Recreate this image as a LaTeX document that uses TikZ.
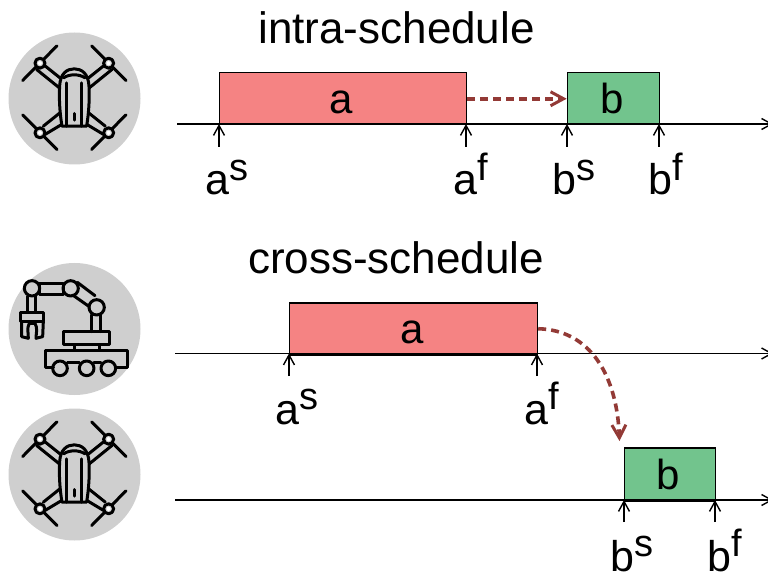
\documentclass[tikz,border=0pt]{standalone}
\usepackage{fontspec}
\setmainfont{Liberation Sans}
\usetikzlibrary{arrows.meta}
\definecolor{redbox}{HTML}{F58383}
\definecolor{greenbox}{HTML}{72C48D}
\definecolor{greydisc}{HTML}{CFCFCF}
\definecolor{dep}{HTML}{933A36}
\newcommand{\lbl}[2]{#1\raisebox{14.5pt}{\fontsize{38}{40}\selectfont #2}}
\tikzset{
  x=1pt,y=-1pt,
  axisline/.style={draw=black,line width=1.4pt,-{Straight Barb[length=10pt,width=11pt]}},
  tick/.style={draw=black,line width=1.4pt,-{Straight Barb[length=10pt,width=11pt]}},
  taskbox/.style={draw=black,line width=1.5pt,inner sep=0pt,minimum height=#1,font=\fontsize{42}{44}\selectfont,text height=30pt,text depth=0pt},
  depend/.style={draw=dep,line width=3.6pt,dash pattern=on 8pt off 5pt,-{Straight Barb[length=13pt,width=14pt,line width=3pt]}},
  title/.style={font=\fontsize{44}{50}\selectfont,anchor=base,inner sep=0pt},
  timelabel/.style={font=\fontsize{43}{50}\selectfont,anchor=base west,inner sep=0pt},
  icon/.style={line width=3pt,draw=black,line cap=round,line join=round},
  disc/.style={fill=greydisc,draw=none,circle,minimum size=132pt,inner sep=0pt},
}
\begin{document}
\begin{tikzpicture}
\useasboundingbox (0,0) rectangle (768,577);
% discs
\node[disc] (d1) at (74.5,98.5) {};
\node[disc] (d2) at (74.5,329) {};
\node[disc] (d3) at (74.5,474.5) {};
% drones
\foreach \cy in {98.5,474.5}{
\begin{scope}[shift={(74.3,\cy)},x=0.3333pt,y=-0.3333pt]
  \foreach \sx in {1,-1}{
  \begin{scope}[xscale=\sx]
    % arms
    \draw[icon] (93,-102) -- (43,-62);
    \draw[icon] (113,-87) -- (45,-32);
    \draw[icon] (93,83) -- (43,43);
    \draw[icon] (88,108) -- (38,78);
    % propellers
    \draw[icon] (52,-158) -- (155,-54);
    \draw[icon] (52,153) -- (155,49);
    % hubs
    \draw[icon,fill=greydisc] (103,-106) circle (15);
    \draw[fill=white,draw=none] (103,-106) circle (6);
    \draw[icon,fill=greydisc] (103,103) circle (15);
    \draw[fill=white,draw=none] (103,103) circle (6);
  \end{scope}}
  \draw[icon,fill=greydisc] (-37,83) .. controls (-44,40) and (-46,0) .. (-44,-38)
     .. controls (-42,-75) and (-22,-89) .. (0,-89)
     .. controls (22,-89) and (42,-75) .. (44,-38)
     .. controls (46,0) and (44,40) .. (37,83) -- cycle;
  \draw[icon] (-22,-47) -- (-22,83);
  \draw[icon] (22,-47) -- (22,83);
  \draw[icon] (-32,-62) .. controls (-15,-74) and (15,-74) .. (32,-62);
  \draw[icon] (0,45) -- (0,65);
\end{scope}}
% robot arm
\begin{scope}[shift={(0,255)},x=0.3333pt,y=-0.3333pt]
  \draw[icon] (118,85) rectangle (192,118);
  \draw[icon] (232,82) -- (285,122);
  \draw[icon] (218,120) -- (268,155);
  \draw[icon] (96,100) circle (23);
  \draw[icon] (212,100) circle (23);
  \draw[icon] (290,157) circle (23);
  \draw[icon] (84,124) -- (84,172);
  \draw[icon] (106,124) -- (106,172);
  \draw[icon] (62,172) rectangle (132,200);
  \draw[icon] (65,200) -- (65,245) -- (85,250) .. controls (85,230) and (80,220) .. (88,205) -- (105,205)
     .. controls (114,220) and (108,235) .. (108,250) -- (128,245) -- (130,200);
  \draw[icon] (274,180) -- (274,230);
  \draw[icon] (302,180) -- (302,230);
  \draw[icon] (190,230) rectangle (328,268);
  \draw[icon] (225,268) rectangle (300,286);
  \draw[icon] (160,338) -- (138,338) -- (138,286) -- (382,286) -- (382,338) -- (348,338);
  \draw[icon] (202,322) -- (238,322);
  \draw[icon] (282,322) -- (303,322);
  \draw[icon] (180,340) circle (22);
  \draw[icon] (260,340) circle (22);
  \draw[icon] (325,340) circle (22);
\end{scope}
% row 1
\coordinate (ax1s) at (177,124);
\coordinate (ax1e) at (773,124);
\node[taskbox=52pt,fill=redbox,minimum width=247pt,anchor=north west] (a1) at (218.7,72) {\hspace{-3pt}a};
\node[taskbox=52pt,fill=greenbox,minimum width=92pt,anchor=north west] (b1) at (566.7,72) {\hspace{-3pt}b};
\draw[axisline] (ax1s) -- (ax1e);
\draw[depend] (a1.east) -- (b1.west);
\foreach \n/\x in {t1/219,t2/466,t3/567,t4/659}{
  \coordinate (\n) at (\x,147);
  \coordinate (\n top) at (\x,124);
  \draw[tick] (\n) -- (\n top);
}
\node[title] (title1) at (396.5,44) {intra-schedule};
\node[timelabel] (l1) at (205,195) {\lbl{a}{s}};
\node[timelabel] (l2) at (453,195) {\lbl{a}{f}};
\node[timelabel] (l3) at (552,195) {\lbl{b}{s}};
\node[timelabel] (l4) at (648,195) {\lbl{b}{f}};
% row 2
\coordinate (ax2s) at (175,353.5);
\coordinate (ax2e) at (773,353.5);
\node[taskbox=52pt,fill=redbox,minimum width=248pt,anchor=north west] (a2) at (288.7,302) {\hspace{-3pt}a};
\draw[axisline] (ax2s) -- (ax2e);
\foreach \n/\x in {u1/289,u2/537}{
  \coordinate (\n) at (\x,376);
  \coordinate (\n top) at (\x,353.5);
  \draw[tick] (\n) -- (\n top);
}
\node[title] (title2) at (396,273) {cross-schedule};
\node[timelabel] (l5) at (275,424) {\lbl{a}{s}};
\node[timelabel] (l6) at (524,424) {\lbl{a}{f}};
% row 3
\coordinate (ax3s) at (175,500);
\coordinate (ax3e) at (773,500);
\node[taskbox=53pt,fill=greenbox,minimum width=91pt,anchor=north west] (b2) at (623.7,447) {\hspace{-3pt}b};
\draw[axisline] (ax3s) -- (ax3e);
\foreach \n/\x in {v1/624,v2/715}{
  \coordinate (\n) at (\x,522);
  \coordinate (\n top) at (\x,500);
  \draw[tick] (\n) -- (\n top);
}
\node[timelabel] (l7) at (610,571) {\lbl{b}{s}};
\node[timelabel] (l8) at (707,571) {\lbl{b}{f}};
% cross dependency
\coordinate (depend end) at (619.5,441);
\draw[depend] (a2.east) .. controls (590,330) and (617,375) .. (depend end);
\end{tikzpicture}
\end{document}
